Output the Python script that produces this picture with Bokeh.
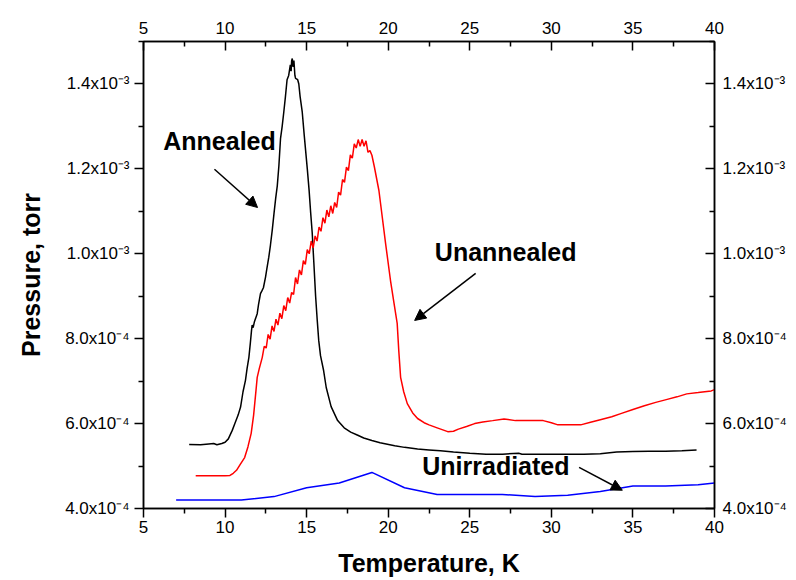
from bokeh.plotting import figure
from bokeh.models import LinearAxis, FixedTicker, Range1d, Label, Arrow, NormalHead
from bokeh.embed import file_html
from bokeh.resources import INLINE

# Temperature (K) and pressure (torr) for each desorption run
annealed_T = [7.8, 8.5, 9.0, 9.3, 9.5, 9.8, 10.0, 10.2, 10.44, 10.6, 10.8, 10.95, 11.1, 11.25,
              11.35, 11.46, 11.55, 11.62, 11.66, 11.72, 11.8, 11.97, 12.05, 12.17, 12.25, 12.35,
              12.48, 12.55, 12.68, 12.78, 12.89, 13.0, 13.1, 13.2, 13.3, 13.4, 13.5, 13.6, 13.7,
              13.8, 13.9, 14.0, 14.05, 14.08, 14.12, 14.17, 14.22, 14.28, 14.32, 14.45, 14.52,
              14.6, 14.73, 14.85, 15.04, 15.15, 15.24, 15.34, 15.44, 15.55, 15.65, 15.74, 15.85,
              16.04, 16.2, 16.5, 16.9, 17.3, 17.7, 18.1, 18.5, 19.0, 19.5, 20.4, 21.0, 21.8, 22.5,
              23.2, 24.0, 25.0, 26.0, 27.0, 28.0, 28.2, 30.0, 32.0, 33.0, 34.0, 35.0, 36.0, 37.0,
              38.0, 38.9]
annealed_P = [5.51e-4, 5.50e-4, 5.52e-4, 5.53e-4, 5.50e-4, 5.53e-4, 5.56e-4, 5.64e-4, 5.84e-4,
              6.00e-4, 6.20e-4, 6.39e-4, 6.75e-4, 7.02e-4, 7.30e-4, 7.56e-4, 7.90e-4, 8.19e-4,
              8.32e-4, 8.26e-4, 8.40e-4, 8.59e-4, 8.80e-4, 9.06e-4, 9.12e-4, 9.20e-4, 9.45e-4,
              9.62e-4, 9.92e-4, 1.020e-3, 1.055e-3, 1.095e-3, 1.130e-3, 1.160e-3, 1.208e-3,
              1.272e-3, 1.300e-3, 1.334e-3, 1.370e-3, 1.410e-3, 1.420e-3, 1.445e-3, 1.430e-3,
              1.455e-3, 1.460e-3, 1.440e-3, 1.455e-3, 1.420e-3, 1.413e-3, 1.410e-3, 1.400e-3,
              1.370e-3, 1.334e-3, 1.280e-3, 1.200e-3, 1.150e-3, 1.100e-3, 1.050e-3, 9.80e-4,
              9.00e-4, 8.43e-4, 7.96e-4, 7.60e-4, 7.25e-4, 6.85e-4, 6.40e-4, 6.07e-4, 5.90e-4,
              5.80e-4, 5.73e-4, 5.66e-4, 5.60e-4, 5.55e-4, 5.48e-4, 5.44e-4, 5.40e-4, 5.38e-4,
              5.36e-4, 5.33e-4, 5.30e-4, 5.28e-4, 5.28e-4, 5.30e-4, 5.28e-4, 5.28e-4, 5.28e-4,
              5.29e-4, 5.33e-4, 5.34e-4, 5.35e-4, 5.35e-4, 5.36e-4, 5.38e-4]

unannealed_T = [8.2, 9.0, 10.0, 10.3, 10.5, 10.7, 10.95, 11.2, 11.4, 11.6, 11.75, 11.9, 11.97,
                12.1, 12.28, 12.40, 12.52, 12.64, 12.76, 12.88, 13.00, 13.12, 13.24, 13.36, 13.48,
                13.60, 13.72, 13.84, 13.96, 14.08, 14.20, 14.32, 14.44, 14.56, 14.68, 14.80,
                14.92, 15.04, 15.16, 15.28, 15.40, 15.52, 15.64, 15.76, 15.88, 16.00, 16.12,
                16.24, 16.36, 16.48, 16.60, 16.72, 16.84, 16.96, 17.08, 17.20, 17.32, 17.44,
                17.56, 17.68, 17.80, 17.92, 18.04, 18.16, 18.28, 18.40, 18.52, 18.64, 18.76,
                18.88, 19.00, 19.15, 19.43, 19.84, 20.14, 20.35, 20.55, 20.65, 20.76, 20.95,
                21.17, 21.5, 21.8, 22.2, 22.5, 23.0, 23.65, 24.0, 24.3, 24.8, 25.3, 25.8, 26.4,
                27.1, 27.8, 28.5, 29.5, 30.0, 30.4, 31.8, 32.4, 33.0, 33.7, 34.3, 35.0, 35.7,
                36.4, 37.1, 37.7, 38.3, 39.0, 39.8, 40.0]
unannealed_P = [4.77e-4, 4.77e-4, 4.77e-4, 4.78e-4, 4.83e-4, 4.90e-4, 5.05e-4, 5.20e-4, 5.45e-4,
                5.77e-4, 6.20e-4, 6.80e-4, 7.09e-4, 7.30e-4, 7.56e-4, 7.82e-4, 7.78e-4, 8.10e-4,
                7.99e-4, 8.30e-4, 8.17e-4, 8.46e-4, 8.32e-4, 8.60e-4, 8.47e-4, 8.78e-4, 8.66e-4,
                8.97e-4, 8.84e-4, 9.09e-4, 9.04e-4, 9.44e-4, 9.29e-4, 9.62e-4, 9.50e-4, 9.84e-4,
                9.75e-4, 1.010e-3, 1.000e-3, 1.030e-3, 1.014e-3, 1.042e-3, 1.030e-3, 1.063e-3,
                1.053e-3, 1.085e-3, 1.072e-3, 1.103e-3, 1.087e-3, 1.113e-3, 1.095e-3, 1.121e-3,
                1.109e-3, 1.145e-3, 1.138e-3, 1.175e-3, 1.168e-3, 1.204e-3, 1.196e-3, 1.233e-3,
                1.225e-3, 1.259e-3, 1.249e-3, 1.269e-3, 1.253e-3, 1.269e-3, 1.253e-3, 1.266e-3,
                1.239e-3, 1.243e-3, 1.232e-3, 1.205e-3, 1.149e-3, 1.024e-3, 9.37e-4, 8.85e-4,
                8.36e-4, 7.70e-4, 7.09e-4, 6.75e-4, 6.47e-4, 6.25e-4, 6.12e-4, 6.02e-4, 5.97e-4,
                5.90e-4, 5.81e-4, 5.82e-4, 5.87e-4, 5.93e-4, 6.00e-4, 6.04e-4, 6.07e-4, 6.11e-4,
                6.07e-4, 6.07e-4, 6.07e-4, 6.02e-4, 5.97e-4, 5.97e-4, 6.03e-4, 6.09e-4, 6.16e-4,
                6.24e-4, 6.33e-4, 6.42e-4, 6.50e-4, 6.57e-4, 6.63e-4, 6.70e-4, 6.73e-4, 6.77e-4,
                6.80e-4]

unirradiated_T = [7, 9, 11, 13, 15, 17, 19, 21, 23, 25, 27, 29, 31, 33, 35, 37, 39, 40]
unirradiated_P = [4.20e-4, 4.20e-4, 4.20e-4, 4.28e-4, 4.49e-4, 4.60e-4, 4.85e-4, 4.49e-4, 4.33e-4,
                  4.33e-4, 4.33e-4, 4.28e-4, 4.31e-4, 4.40e-4, 4.53e-4, 4.53e-4, 4.56e-4, 4.60e-4]

# Axis ticks and labels
x_ticks = [5, 10, 15, 20, 25, 30, 35, 40]
x_minor = [7.5, 12.5, 17.5, 22.5, 27.5, 32.5, 37.5]
y_ticks = [4e-4, 6e-4, 8e-4, 1.0e-3, 1.2e-3, 1.4e-3]
y_minor = [5e-4, 7e-4, 9e-4, 1.1e-3, 1.3e-3, 1.5e-3]
y_tick_labels = ["4.0x10\u207b\u2074", "6.0x10\u207b\u2074", "8.0x10\u207b\u2074",
                 "1.0x10\u207b\u00b3", "1.2x10\u207b\u00b3", "1.4x10\u207b\u00b3"]

FONT = "Liberation Sans"

p = figure(width=796, height=580, x_range=Range1d(5, 40), y_range=Range1d(4e-4, 1.5e-3),
           output_backend="svg", toolbar_location=None,
           x_axis_location=None, y_axis_location=None,
           min_border_left=143, min_border_right=82, min_border_top=41, min_border_bottom=72)
p.grid.visible = False
p.outline_line_color = "black"
p.outline_line_width = 1.5
p.background_fill_color = "white"
p.border_fill_color = "white"

overrides = dict(zip(y_ticks, y_tick_labels))


def style(ax, inward):
    ax.axis_line_color = "black"
    ax.axis_line_width = 1.5
    ax.major_tick_line_color = "black"
    ax.minor_tick_line_color = "black"
    ax.major_tick_line_width = 1.5
    ax.minor_tick_line_width = 1.5
    if inward:
        ax.major_tick_in, ax.major_tick_out = 9, 0
        ax.minor_tick_in, ax.minor_tick_out = 5, 0
    else:
        ax.major_tick_in, ax.major_tick_out = 0, 9
        ax.minor_tick_in, ax.minor_tick_out = 0, 5
    ax.major_label_text_font = FONT
    ax.major_label_text_font_size = "17px"
    ax.major_label_text_color = "black"
    ax.axis_label_text_font = FONT
    ax.axis_label_text_font_style = "bold"
    ax.axis_label_text_font_size = "25px"
    ax.axis_label_text_color = "black"


bottom = LinearAxis(ticker=FixedTicker(ticks=x_ticks, minor_ticks=x_minor),
                    axis_label="Temperature, K")
style(bottom, False)
bottom.major_label_standoff = 3
bottom.axis_label_standoff = 13
p.add_layout(bottom, "below")

top = LinearAxis(ticker=FixedTicker(ticks=x_ticks, minor_ticks=x_minor))
style(top, True)
top.major_label_standoff = 8
p.add_layout(top, "above")

left = LinearAxis(ticker=FixedTicker(ticks=y_ticks, minor_ticks=y_minor),
                  axis_label="Pressure, torr", major_label_overrides=overrides)
style(left, False)
left.major_label_standoff = 5
left.axis_label_standoff = 17
p.add_layout(left, "left")

right = LinearAxis(ticker=FixedTicker(ticks=y_ticks, minor_ticks=y_minor),
                   major_label_overrides=overrides)
style(right, True)
right.major_label_standoff = 8
p.add_layout(right, "right")

p.line(annealed_T, annealed_P, line_color="black", line_width=1.5)
p.line(unannealed_T, unannealed_P, line_color="#ff0000", line_width=1.5)
p.line(unirradiated_T, unirradiated_P, line_color="#0000ff", line_width=1.5)

# Curve annotations
notes = [("Annealed", 9.66, 1.2645e-3), ("Unannealed", 27.2, 1.003e-3), ("Unirradiated", 26.6, 5.01e-4)]
for txt, tx, ty in notes:
    p.add_layout(Label(x=tx, y=ty, text=txt, text_font=FONT, text_font_style="bold",
                       text_font_size="25px", text_color="black",
                       text_align="center", text_baseline="middle"))

arrows = [(9.35, 1.199e-3, 11.99, 1.109e-3),
          (25.36, 9.54e-4, 21.62, 8.43e-4),
          (31.7, 4.97e-4, 34.35, 4.43e-4)]
for xs, ys, xe, ye in arrows:
    p.add_layout(Arrow(end=NormalHead(size=11, fill_color="black", line_color="black"),
                       x_start=xs, y_start=ys, x_end=xe, y_end=ye,
                       line_color="black", line_width=1.5))

open("out.html", "w").write(file_html(p, INLINE))
